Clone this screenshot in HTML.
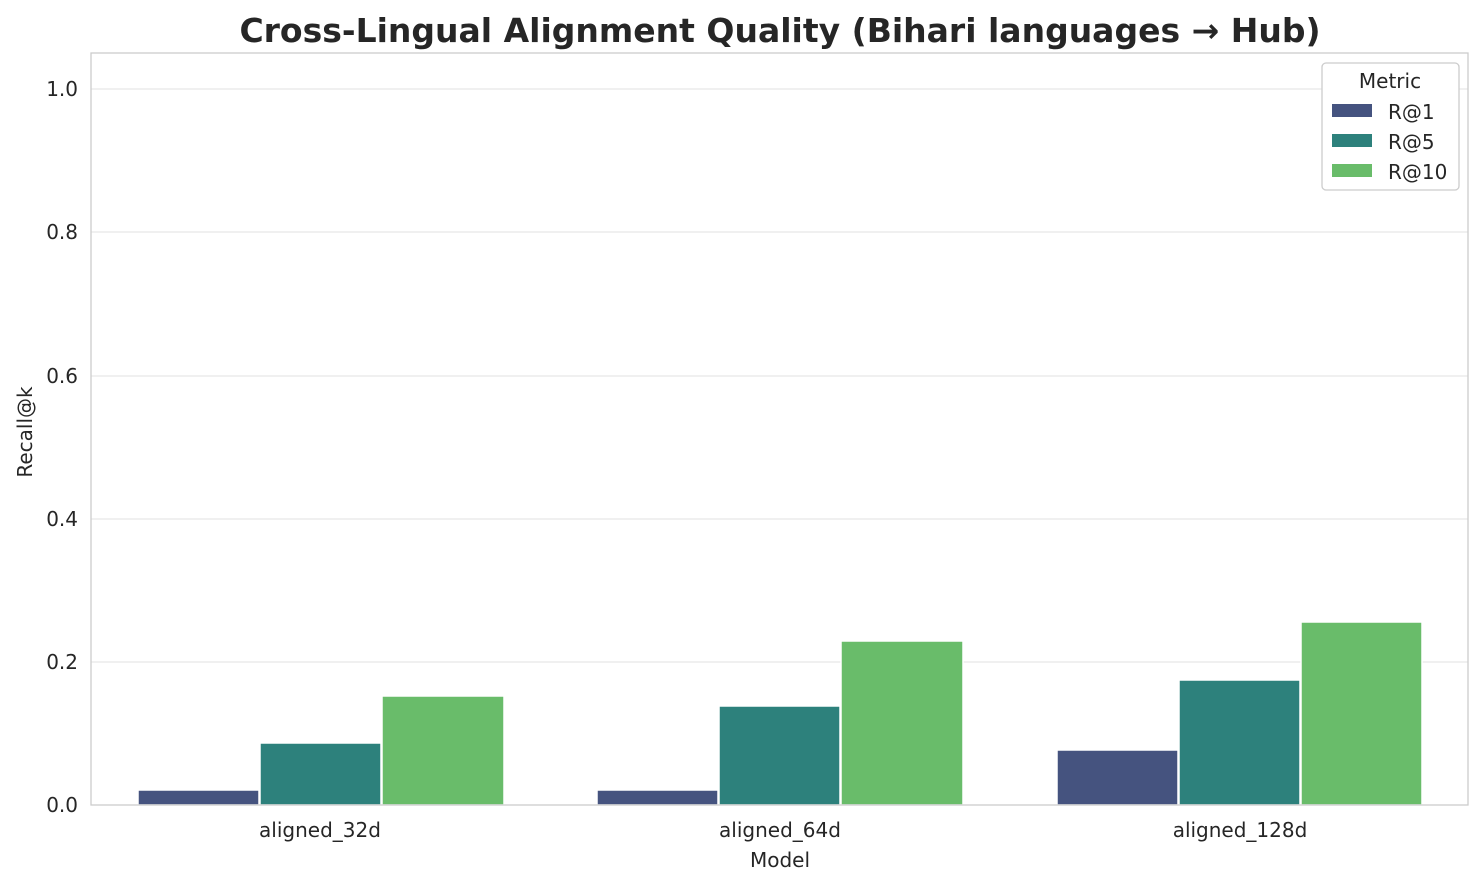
<!DOCTYPE html>
<html><head><style>
body{margin:0;background:#fff;}
svg text{font-family:"DejaVu Sans","Liberation Sans",sans-serif;fill:#262626;}
</style></head><body>
<svg width="1484" height="885" viewBox="0 0 1484 885" xmlns="http://www.w3.org/2000/svg">
<rect width="1484" height="885" fill="#fff"/>
<g stroke="#ebebeb" stroke-width="1.5">
<line x1="91" x2="1468" y1="662" y2="662"/>
<line x1="91" x2="1468" y1="519" y2="519"/>
<line x1="91" x2="1468" y1="376" y2="376"/>
<line x1="91" x2="1468" y1="232" y2="232"/>
<line x1="91" x2="1468" y1="89" y2="89"/>
</g>
<g stroke="#fff" stroke-width="1.5">
<rect x="138" y="790" width="121" height="15" fill="#45537f"/>
<rect x="260" y="743" width="121" height="62" fill="#2d817c"/>
<rect x="382" y="696" width="122" height="109" fill="#69bc6a"/>
<rect x="597" y="790" width="121" height="15" fill="#45537f"/>
<rect x="719" y="706" width="121" height="99" fill="#2d817c"/>
<rect x="841" y="641" width="122" height="164" fill="#69bc6a"/>
<rect x="1057" y="750" width="121" height="55" fill="#45537f"/>
<rect x="1179" y="680" width="121" height="125" fill="#2d817c"/>
<rect x="1301" y="622" width="121" height="183" fill="#69bc6a"/>
</g>
<rect x="91" y="53" width="1377" height="752" fill="none" stroke="#ccc" stroke-width="1.3"/>
<g font-size="20" text-anchor="end">
<text x="78" y="812">0.0</text>
<text x="78" y="669">0.2</text>
<text x="78" y="526">0.4</text>
<text x="78" y="383">0.6</text>
<text x="78" y="239">0.8</text>
<text x="78" y="96">1.0</text>
</g>
<g font-size="20" text-anchor="middle">
<text x="320" y="837">aligned_32d</text>
<text x="780" y="837">aligned_64d</text>
<text x="1240" y="837">aligned_128d</text>
<text x="780" y="867">Model</text>
</g>
<text font-size="20" text-anchor="middle" transform="translate(32,432) rotate(-90)">Recall@k</text>
<text x="780" y="42" font-size="33" font-weight="bold" text-anchor="middle">Cross-Lingual Alignment Quality (Bihari languages → Hub)</text>
<rect x="1322" y="63" width="137" height="127" rx="4" fill="#fff" stroke="#ccc" stroke-width="1.3"/>
<text x="1390" y="88" font-size="20" text-anchor="middle">Metric</text>
<rect x="1332" y="104" width="40" height="13" fill="#45537f"/>
<rect x="1332" y="134" width="40" height="13" fill="#2d817c"/>
<rect x="1332" y="164" width="40" height="13" fill="#69bc6a"/>
<g font-size="20">
<text x="1388" y="119">R@1</text>
<text x="1388" y="149">R@5</text>
<text x="1388" y="179">R@10</text>
</g>
</svg>
</body></html>
